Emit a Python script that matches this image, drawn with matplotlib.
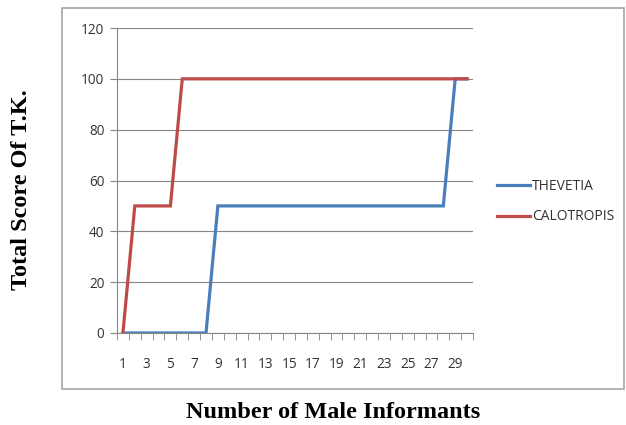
import matplotlib
matplotlib.use("Agg")
import matplotlib.pyplot as plt
from matplotlib.patches import Rectangle
import numpy as np

informants = list(range(1, 31))
thevetia = [0, 0, 0, 0, 0, 0, 0, 0, 50, 50, 50, 50, 50, 50, 50, 50, 50, 50, 50, 50,
            50, 50, 50, 50, 50, 50, 50, 50, 100, 100]
calotropis = [0, 50, 50, 50, 50, 100, 100, 100, 100, 100, 100, 100, 100, 100, 100,
              100, 100, 100, 100, 100, 100, 100, 100, 100, 100, 100, 100, 100, 100, 100]
xtick_labels = [str(i) for i in range(1, 31, 2)]
yticks = [0, 20, 40, 60, 80, 100, 120]

W, H = 626, 425
fig = plt.figure(figsize=(W / 100, H / 100), dpi=100)

# outer chart frame
fig.patches.append(Rectangle((62 / W, 1 - 389 / H), (624 - 62) / W, (389 - 8) / H,
                             transform=fig.transFigure, fill=False,
                             edgecolor="#a6a6a6", linewidth=1.2))

ax = fig.add_axes([117 / W, 1 - 333 / H, (473 - 117) / W, (333 - 28) / H])
ax.plot(informants, thevetia, color="#4A7EBB", linewidth=2.3, label="THEVETIA",
        solid_joinstyle="miter")
ax.plot(informants, calotropis, color="#BE4B48", linewidth=2.3, label="CALOTROPIS",
        solid_joinstyle="miter")

ax.set_xlim(0.5, 30.5)
ax.set_ylim(0, 120)
ax.set_yticks(yticks)
ax.set_yticklabels([str(v) for v in yticks], fontsize=9.8, color="#333333",
                   family="Open Sans")
ax.set_xticks(list(range(1, 31, 2)))
ax.set_xticklabels(xtick_labels, fontsize=9.8, color="#333333", family="Open Sans")
ax.tick_params(axis="x", length=0, pad=17)
ax.set_xticks(np.arange(0.5, 31, 1.0), minor=True)
ax.tick_params(axis="x", which="minor", length=5, color="#868686", direction="out")
ax.tick_params(axis="y", length=5, color="#868686", pad=4)
ax.grid(axis="y", color="#868686", linewidth=0.8)
ax.set_axisbelow(True)
for s in ["top", "right"]:
    ax.spines[s].set_visible(False)
for s in ["left", "bottom"]:
    ax.spines[s].set_color("#868686")
    ax.spines[s].set_linewidth(0.8)

leg = ax.legend(loc="center left", bbox_to_anchor=(1.04, 0.43), frameon=False,
                prop={"family": "Open Sans", "size": 10}, handlelength=2.4,
                handletextpad=0.1, labelspacing=1.1, borderaxespad=0.3)
for t in leg.get_texts():
    t.set_color("#333333")

fig.text(333 / W, 1 - 413 / H, "Number of Male Informants", ha="center", va="center",
         fontsize=17.5, fontweight="bold", family="Liberation Serif")
fig.text(22 / W, 1 - 190 / H, "Total Score Of T.K.", ha="center", va="center",
         rotation=90, fontsize=17.5, fontweight="bold", family="Liberation Serif")

fig.savefig("out.png", dpi=100)
